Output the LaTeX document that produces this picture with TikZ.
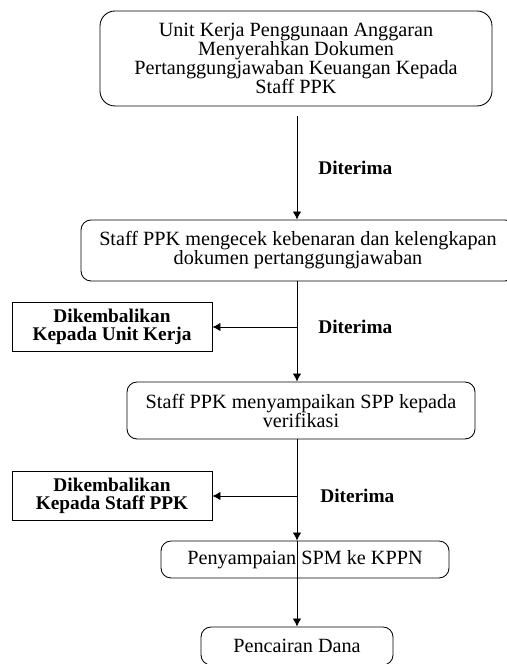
\documentclass[tikz,border=0pt]{standalone}
\usepackage{fontspec}
\setmainfont{Liberation Serif}
\usetikzlibrary{arrows.meta}

\begin{document}
\begin{tikzpicture}[
	>={Latex[length=1.6mm,width=1.7mm]},
	line width=0.5pt,
	proses/.style={draw, rounded corners=2mm, align=center, inner sep=0pt, font=\fontsize{11.5}{10.8}\selectfont},
	kembali/.style={draw, align=center, inner sep=0pt, minimum width=4cm, minimum height=0.97cm, font=\fontsize{11}{10.2}\selectfont\bfseries},
	ket/.style={font=\fontsize{11}{13}\selectfont\bfseries}
	]
	%\draw[help lines, thick] (0,0) grid (10,13);
	\useasboundingbox (0,0) rectangle (10.14,13.28);
	\coordinate (jalur) at (5.94,0);
	\node[proses, rounded corners=3mm, minimum width=7.84cm, minimum height=1.9cm] (ukpa) at (5.92,12.11) {Unit Kerja Penggunaan Anggaran\\ Menyerahkan Dokumen\\ Pertanggungjawaban Keuangan Kepada\\ Staff PPK};
	\node[proses, minimum width=8.68cm, minimum height=1.22cm] (cek) at (5.96,8.27) {Staff PPK mengecek kebenaran dan kelengkapan\\ dokumen pertanggungjawaban};
	\node[proses, minimum width=6.96cm, minimum height=1.14cm] (spp) at (6.02,5.07) {Staff PPK menyampaikan SPP kepada\\ verifikasi};
	\node[proses, minimum width=5.76cm, minimum height=0.74cm] (spm) at (6.10,2.09) {Penyampaian SPM ke KPPN};
	\node[proses, minimum width=3.84cm, minimum height=0.76cm] (cair) at (5.94,0.36) {Pencairan Dana};
	\node[kembali] (unit) at (2.24,6.74) {Dikembalikan\\ Kepada Unit Kerja};
	\node[kembali] (staf) at (2.24,3.36) {Dikembalikan\\ Kepada Staff PPK};
	% titik cabang
	\coordinate (cabang1) at (unit.east -| jalur);
	\coordinate (cabang2) at (staf.east -| jalur);
	\draw[->] ([yshift=-2mm]ukpa.south -| jalur) -- node[ket, right=3mm] (terima1) {Diterima} (cek.north -| jalur);
	\draw[->] (cek.south -| jalur) -- (spp.north -| jalur);
	\draw[->] (cabang1) -- (unit.east);
	\node[ket, right=3mm] (terima2) at (cabang1) {Diterima};
	\draw[->] (spp.south -| jalur) -- (spm.north -| jalur);
	\draw[->] (cabang2) -- (staf.east);
	\node[ket, right=3.4mm] (terima3) at (cabang2) {Diterima};
	\draw[->] (spm.north -| jalur) -- (cair.north);
\end{tikzpicture}
\end{document}
